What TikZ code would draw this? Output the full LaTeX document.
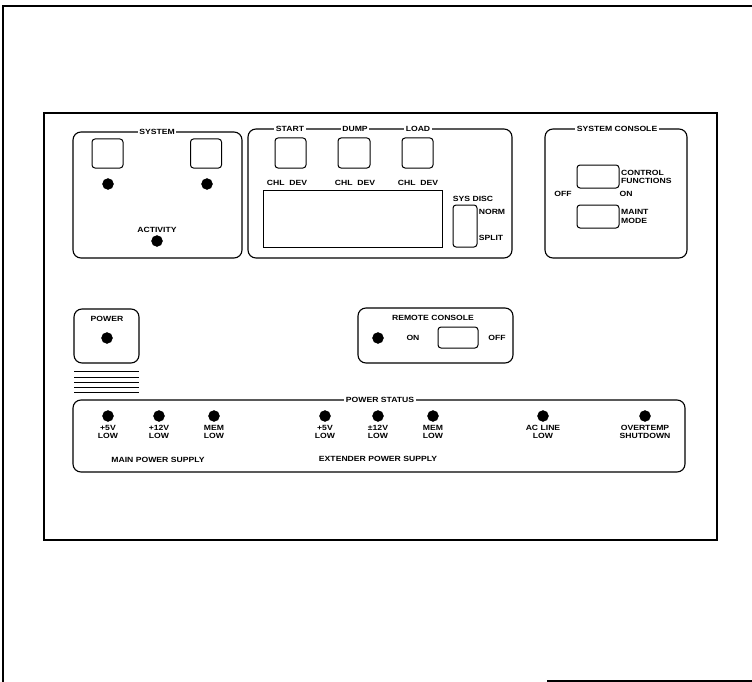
\documentclass[tikz,border=0pt]{standalone}
\usepackage{fontspec}
\newfontfamily\panelfont[FakeStretch=1.15]{Liberation Sans}
\usetikzlibrary{positioning}

\begin{document}
\begin{tikzpicture}[x=1pt,y=-1pt,
    every node/.style={font=\panelfont\fontsize{7.5}{8.5}\selectfont\bfseries,inner sep=1pt,align=center},
    panel/.style={draw,line width=1.1pt,rounded corners=8pt,inner sep=0pt},
    btn/.style={draw,line width=1pt,rounded corners=3pt,inner sep=0pt},
    led/.style={draw,shape=circle,fill=black,minimum size=11pt,inner sep=0pt},
    tag/.style={fill=white,inner sep=1.5pt}]

    \useasboundingbox (0,0) rectangle (752,682);

    % sheet frame and front panel
    \draw[line width=1.2pt] (3,682) -- (3,6) -- (752,6);
    \draw[line width=1.2pt] (547,681) -- (752,681);
    \draw[line width=2.2pt] (44,113) rectangle (717,540);

    % system
    \node[panel,minimum width=169,minimum height=126] (sys) at (157.5,195) {};
    \node[tag] (systag) at (157,132) {SYSTEM};
    \node[btn,minimum width=31,minimum height=29] (sysa) at (107.5,153.5) {};
    \node[btn,minimum width=31,minimum height=29] (sysb) at (206,153.5) {};
    \node[led] (leda) at (108,184) {};
    \node[led] (ledb) at (207,184) {};
    \node (act) at (157,230) {ACTIVITY};
    \node[led] (ledact) at (157,241) {};

    % start / dump / load
    \node[panel,minimum width=264,minimum height=129] (ctl) at (380,193.5) {};
    \node[tag] (starttag) at (290,129) {START};
    \node[tag] (dumptag) at (355,129) {DUMP};
    \node[tag] (loadtag) at (418,129) {LOAD};
    \node[btn,minimum width=31,minimum height=30] (start) at (290.5,153) {};
    \node[btn,minimum width=32,minimum height=30] (dump) at (354,153) {};
    \node[btn,minimum width=31,minimum height=30] (load) at (417.5,153) {};
    \node (cda) at (287,183) {CHL\ \ DEV};
    \node (cdb) at (355,183) {CHL\ \ DEV};
    \node (cdc) at (418,183) {CHL\ \ DEV};
    \node[draw,line width=1pt,minimum width=179,minimum height=57,inner sep=0pt] (disp) at (352.5,218.5) {};
    \node (sysdisc) at (473,199) {SYS DISC};
    \node[btn,minimum width=24,minimum height=42] (disc) at (465,226) {};
    \node (norm) at (492,212) {NORM};
    \node (split) at (491,238) {SPLIT};

    % system console
    \node[panel,minimum width=142,minimum height=129] (con) at (616,193.5) {};
    \node[tag] (contag) at (617,129) {SYSTEM CONSOLE};
    \node[btn,minimum width=42,minimum height=23] (cfbtn) at (598,176.5) {};
    \node[anchor=west,align=left] (cf) at (620,177) {CONTROL\\FUNCTIONS};
    \node (off) at (563,194) {OFF};
    \node (on) at (626,194) {ON};
    \node[btn,minimum width=42,minimum height=23] (mmbtn) at (598,216.5) {};
    \node[anchor=west,align=left] (mm) at (620,216.5) {MAINT\\MODE};

    % power
    \node[panel,minimum width=65,minimum height=54] (pwr) at (106.5,336) {};
    \node (pwrtxt) at (107,319) {POWER};
    \node[led] (ledpwr) at (107,338) {};
    \foreach \y in {371,377,382,387,392}
        \draw[line width=1pt] (74,\y) -- (139,\y);

    % remote console
    \node[panel,minimum width=155,minimum height=55] (rem) at (435.5,335.5) {};
    \node (remtxt) at (433,318) {REMOTE CONSOLE};
    \node[led] (ledrem) at (378,338) {};
    \node (remon) at (413,338) {ON};
    \node[btn,minimum width=40,minimum height=21] (rembtn) at (458,337.5) {};
    \node (remoff) at (497,338) {OFF};

    % power status
    \node[panel,minimum width=612,minimum height=72] (stat) at (379,436) {};
    \node[tag] (stattag) at (380,400) {POWER STATUS};
    \node[led] (s1) at (108,416) {};
    \node[led] (s2) at (159,416) {};
    \node[led] (s3) at (214,416) {};
    \node[led] (s4) at (325,416) {};
    \node[led] (s5) at (378,416) {};
    \node[led] (s6) at (433,416) {};
    \node[led] (s7) at (543,416) {};
    \node[led] (s8) at (645,416) {};
    \node[below=2pt of s1] (t1) {+5V\\LOW};
    \node[below=2pt of s2] (t2) {+12V\\LOW};
    \node[below=2pt of s3] (t3) {MEM\\LOW};
    \node[below=2pt of s4] (t4) {+5V\\LOW};
    \node[below=2pt of s5] (t5) {±12V\\LOW};
    \node[below=2pt of s6] (t6) {MEM\\LOW};
    \node[below=2pt of s7] (t7) {AC LINE\\LOW};
    \node[below=2pt of s8] (t8) {OVERTEMP\\SHUTDOWN};
    \node (mainps) at (158,460) {MAIN POWER SUPPLY};
    \node (extps) at (378,459) {EXTENDER POWER SUPPLY};

\end{tikzpicture}
\end{document}
